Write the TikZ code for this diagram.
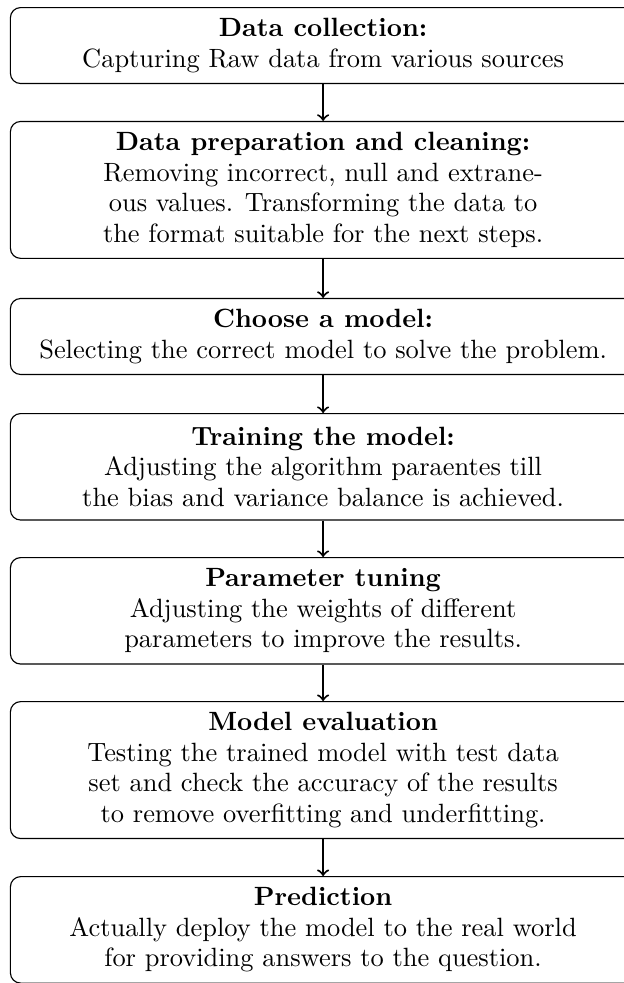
\documentclass[tikz,border=0pt]{standalone}
\begin{document}
\begin{tikzpicture}[x=1pt,y=1pt,
  box/.style={draw, line width=0.45pt, rounded corners=4pt, minimum width=246.2pt,
    align=center, anchor=north, inner sep=0pt,
    font=\fontsize{10.4}{12}\selectfont},
  twoline/.style={minimum height=29.9pt},
  threeline/.style={minimum height=41.9pt},
  fourline/.style={minimum height=53.9pt},
  arr/.style={->, line width=0.8pt}]
\useasboundingbox (0,0) rectangle (245.3,-387);
\node[box,twoline] (b1) at (127.2,-2.76)
  {\textbf{Data collection:}\\Capturing Raw data from various sources};
\node[box,fourline] (b2) at (127.2,-47.6)
  {\textbf{Data preparation and cleaning:}\\Removing incorrect, null and extrane-\\ous values. Transforming the data to\\the format suitable for the next steps.};
\node[box,twoline] (b3) at (127.2,-117.3)
  {\textbf{Choose a model:}\\Selecting the correct model to solve the problem.};
\node[box,threeline] (b4) at (127.2,-162.6)
  {\textbf{Training the model:}\\Adjusting the algorithm paraentes till\\the bias and variance balance is achieved.};
\node[box,threeline] (b5) at (127.2,-219.3)
  {\textbf{Parameter tuning}\\Adjusting the weights of different\\parameters to improve the results.};
\node[box,fourline] (b6) at (127.2,-276.0)
  {\textbf{Model evaluation}\\Testing the trained model with test data\\set and check the accuracy of the results\\to remove overfitting and underfitting.};
\node[box,threeline] (b7) at (127.2,-344.9)
  {\textbf{Prediction}\\Actually deploy the model to the real world\\for providing answers to the question.};
\draw[arr] (b1) -- (b2);
\draw[arr] (b2) -- (b3);
\draw[arr] (b3) -- (b4);
\draw[arr] (b4) -- (b5);
\draw[arr] (b5) -- (b6);
\draw[arr] (b6) -- (b7);
\end{tikzpicture}
\end{document}
